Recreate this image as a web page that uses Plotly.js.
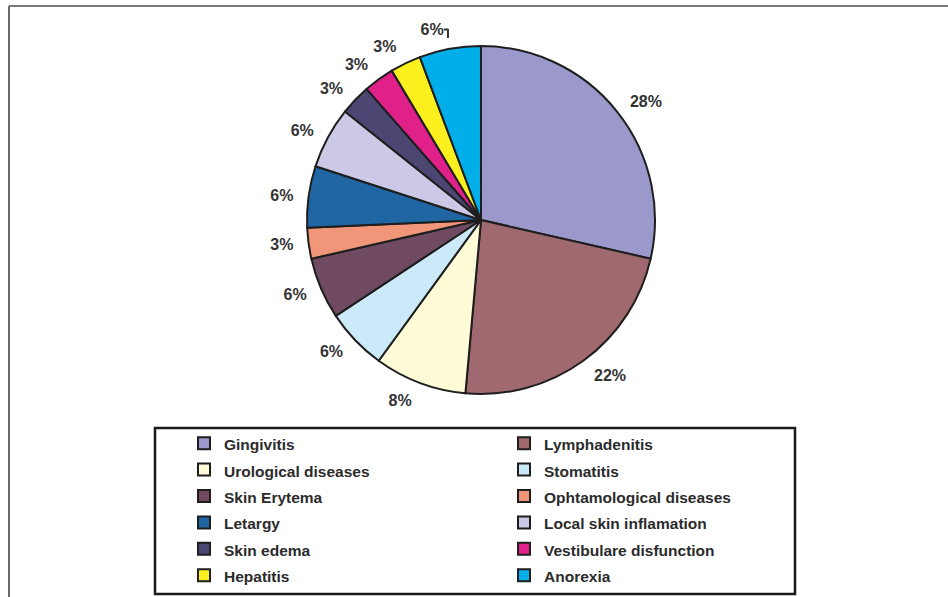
<!DOCTYPE html>
<html>
<head>
<meta charset="utf-8">
<script src="https://cdn.plot.ly/plotly-3.0.1.min.js"></script>
<style>html,body{margin:0;padding:0;background:#fff;}#chart{width:948px;height:597px;}</style>
</head>
<body>
<div id="chart"></div>
<script>
// Categories (legend order, clockwise from 12 o'clock)
var categories = [
  "Gingivitis", "Lymphadenitis",
  "Urological diseases", "Stomatitis",
  "Skin Erytema", "Ophtamological diseases",
  "Letargy", "Local skin inflamation",
  "Skin edema", "Vestibulare disfunction",
  "Hepatitis", "Anorexia"
];
// Number of cases per category (slice sizes)
var cases = [10, 8, 3, 2, 2, 1, 2, 2, 1, 1, 1, 2];
// Percent labels printed beside the slices
var percentLabels = ["28%", "22%", "8%", "6%", "6%", "3%", "6%", "6%", "3%", "3%", "3%", "6%"];
// Slice colours
var sliceColors = [
  "#9b98cc", "#a0696f",
  "#fffbd6", "#cbe9f8",
  "#6f4a60", "#f2967a",
  "#1f66a3", "#cbc9e6",
  "#4b4672", "#e0218a",
  "#fbf01e", "#00aee9"
];

var W = 948, H = 597;
var cx = 481, cy = 220, r = 174;
var labelR = r + 11; // radius of the invisible pie that carries the outside labels

var legendLabels = categories.map(function (c) {
  return '<span style="font-size:15.5px">' + c + '</span>';
});

function domainFor(rad) {
  return { x: [(cx - rad) / W, (cx + rad) / W], y: [1 - (cy + rad) / H, 1 - (cy - rad) / H] };
}

var labelFont = { family: "Liberation Sans, Arial, sans-serif", size: 16, color: "#333333", weight: "bold" };

var pieTrace = {
  type: "pie",
  labels: legendLabels,
  values: cases,
  textinfo: "none",
  sort: false,
  direction: "clockwise",
  rotation: 0,
  hoverinfo: "label+value",
  marker: { colors: sliceColors, line: { color: "#1e1e1e", width: 2 } },
  domain: domainFor(r)
};

var labelTrace = {
  type: "pie",
  labels: categories,
  values: cases,
  text: percentLabels,
  textinfo: "text",
  textposition: "outside",
  sort: false,
  direction: "clockwise",
  rotation: 0,
  showlegend: false,
  hoverinfo: "skip",
  marker: { colors: categories.map(function () { return "rgba(0,0,0,0)"; }), line: { width: 0 } },
  outsidetextfont: labelFont,
  domain: domainFor(labelR)
};

var layout = {
  width: W, height: H,
  margin: { l: 0, r: 0, t: 0, b: 0 },
  paper_bgcolor: "#ffffff",
  showlegend: true,
  legend: {
    orientation: "h",
    x: 184 / W, y: 1 - 425 / H,
    xanchor: "left", yanchor: "top",
    entrywidth: 275,
    font: { family: "Liberation Sans, Arial, sans-serif", size: 18, color: "#2b2b2b", weight: "bold" },
    bgcolor: "rgba(0,0,0,0)",
    borderwidth: 0,
    traceorder: "normal"
  },
  shapes: [
    { type: "line", xref: "paper", yref: "paper", x0: 9 / W, x1: 1, y0: 1 - 6 / H, y1: 1 - 6 / H, line: { color: "#7a7a7a", width: 2 } },
    { type: "line", xref: "paper", yref: "paper", x0: 9 / W, x1: 9 / W, y0: 1 - 6 / H, y1: 0, line: { color: "#6a6a6a", width: 2 } },
    { type: "rect", xref: "paper", yref: "paper", x0: 155 / W, x1: 795 / W, y0: 1 - 594 / H, y1: 1 - 428 / H, line: { color: "#1a1a1a", width: 2.5 }, fillcolor: "rgba(0,0,0,0)" }
  ]
};

Plotly.newPlot("chart", [pieTrace, labelTrace], layout, { displayModeBar: false, staticPlot: true });
</script>
</body>
</html>
